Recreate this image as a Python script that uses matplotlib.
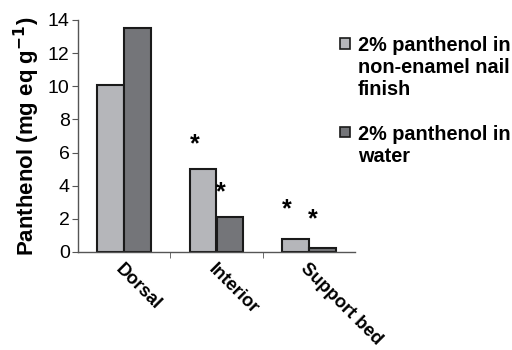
import numpy as np
import matplotlib.pyplot as plt
from matplotlib.patches import Rectangle

plt.rcParams['font.family'] = ['Liberation Sans', 'DejaVu Sans']

sites = ['Dorsal', 'Interior', 'Support bed']
nail_finish = [10.05, 5.0, 0.8]
water = [13.5, 2.1, 0.25]
star_nail = [None, 6.5, 2.6]
star_water = [None, 3.6, 1.95]
labels = ['2% panthenol in\nnon-enamel nail\nfinish', '2% panthenol in\nwater']
colors = ['#b5b6ba', '#747579']

W, H = 512, 350
fig = plt.figure(figsize=(W / 100, H / 100), dpi=100)
ax = fig.add_axes([78 / W, 1 - 252 / H, 277 / W, 232 / H])

x = np.arange(len(sites))
w = 0.29
ax.bar(x - w / 2, nail_finish, w, color=colors[0], edgecolor='#1a1a1a', linewidth=1.5)
ax.bar(x + w / 2, water, w, color=colors[1], edgecolor='#1a1a1a', linewidth=1.5)

# significance markers
for i in range(len(sites)):
    if star_nail[i] is not None:
        ax.text(x[i] - w * 0.82, star_nail[i], '*', ha='center', va='center', fontsize=18, fontweight='bold')
    if star_water[i] is not None:
        ax.text(x[i] + w * 0.15, star_water[i], '*', ha='center', va='center', fontsize=18, fontweight='bold')

ax.set_xlim(-0.5, 2.5)
ax.set_ylim(0, 14)
ax.set_yticks(range(0, 15, 2))
ax.set_xticks(x)
ax.set_xticklabels(sites, rotation=-45, ha='left', rotation_mode='anchor', fontsize=13.2, fontweight='bold')
ax.tick_params(axis='x', which='major', length=0, pad=6)
ax.set_xticks([0.5, 1.5], minor=True)
ax.tick_params(axis='x', which='minor', length=4, direction='out', color='#555555')
ax.tick_params(axis='y', length=4, direction='out', color='#555555', labelsize=14, pad=2)
ax.set_ylabel('Panthenol (mg eq g$^{\\mathbf{-1}}$)', fontsize=16, fontweight='bold', labelpad=4)

for s in ['top', 'right']:
    ax.spines[s].set_visible(False)
for s in ['left', 'bottom']:
    ax.spines[s].set_color('#555555')
    ax.spines[s].set_linewidth(1)

# legend drawn by hand so the boxes sit on the first line (pixel positions)
legend_top = [38, 127]
for lab, col, top in zip(labels, colors, legend_top):
    fig.patches.append(Rectangle((340 / W, 1 - (top + 10.5) / H), 10 / W, 10.5 / H, transform=fig.transFigure,
                                 facecolor=col, edgecolor='#1a1a1a', linewidth=1.2))
    fig.text(358 / W, 1 - (top - 2) / H, lab, ha='left', va='top', fontsize=14.3, fontweight='bold', linespacing=1.2)

fig.savefig('out.png')
